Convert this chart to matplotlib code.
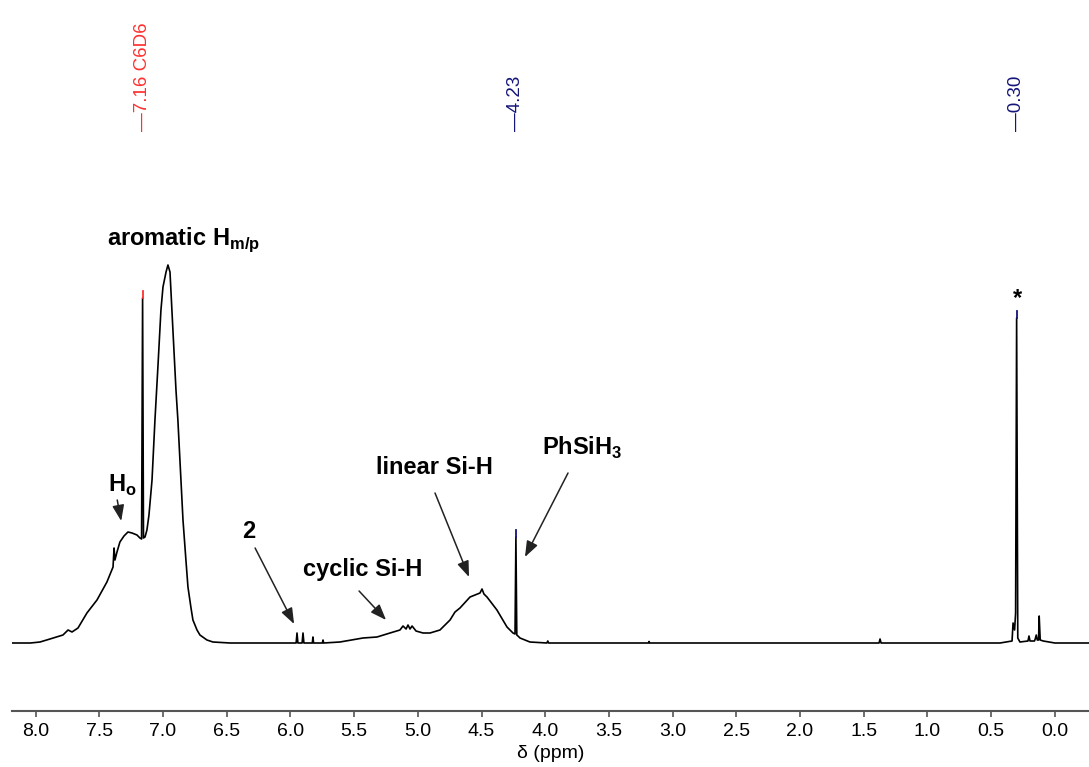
import matplotlib.pyplot as plt
import matplotlib as mpl

mpl.rcParams['font.family'] = ['Liberation Sans', 'DejaVu Sans']
mpl.rcParams['mathtext.fontset'] = 'custom'
mpl.rcParams['mathtext.rm'] = 'Liberation Sans'
mpl.rcParams['mathtext.bf'] = 'Liberation Sans:bold'

# spectrum (ppm, intensity a.u.)
ppm = [8.19, 8.04, 7.965, 7.887, 7.785, 7.745, 7.714, 7.667, 7.597, 7.518,
       7.44, 7.392, 7.384, 7.377, 7.361, 7.338, 7.306, 7.275, 7.243, 7.204,
       7.181, 7.168, 7.16, 7.153, 7.141, 7.126, 7.11, 7.086, 7.063, 7.039,
       7.016, 7.0, 6.976, 6.961, 6.945, 6.922, 6.898, 6.883, 6.859, 6.843,
       6.82, 6.804, 6.78, 6.765, 6.733, 6.71, 6.655, 6.608, 6.474, 6.0,
       5.955, 5.948, 5.941, 5.908, 5.901, 5.894, 5.828, 5.823, 5.818, 5.749,
       5.744, 5.739, 5.611, 5.43, 5.32, 5.218, 5.14, 5.116, 5.092, 5.077,
       5.061, 5.045, 5.014, 4.959, 4.904, 4.826, 4.747, 4.708, 4.669, 4.59,
       4.512, 4.496, 4.481, 4.457, 4.379, 4.3, 4.253, 4.237, 4.23, 4.223,
       4.214, 4.198, 4.12, 3.987, 3.98, 3.973, 3.19, 3.185, 3.18, 1.38,
       1.372, 1.364, 0.43, 0.336, 0.328, 0.316, 0.308, 0.3, 0.291, 0.274,
       0.211, 0.203, 0.195, 0.16, 0.154, 0.146, 0.138, 0.128, 0.123, 0.115,
       0.091, 0.0, -0.27]
intensity = [0, 0, 1, 4, 8, 13, 11, 15, 30, 43,
             61, 76, 95, 83, 91, 101, 107, 111, 110, 108,
             105, 104, 345, 105, 106, 113, 128, 163, 223, 278,
             333, 356, 371, 378, 371, 313, 253, 223, 163, 123,
             83, 56, 35, 23, 13, 8, 3, 1, 0, 0,
             0, 10, 0, 0, 10, 0, 0, 6, 0, 0,
             3, 0, 1, 5, 6, 10, 13, 17, 14, 18,
             14, 17, 12, 10, 10, 13, 23, 31, 35, 46,
             50, 54, 49, 46, 33, 16, 10, 9, 106, 8,
             7, 5, 1, 0, 2, 0, 0, 1.5, 0, 0,
             4, 0, 0, 2, 20, 13, 30, 325, 5, 1,
             2, 7, 2, 2, 4, 8, 3, 3, 27, 3,
             2, 0, 0]

# picked peaks
peak_ppm = [7.16, 4.23, 0.30]
peak_text = ['7.16 C6D6', '4.23', '0.30']
peak_color = ['#ff3030', '#14147a', '#14147a']

fig = plt.figure(figsize=(10.89, 7.67), dpi=100)
ax = fig.add_axes([12/1089, 56/767, 1 - 12/1089, 711/767])

ax.plot(ppm, intensity, color='black', linewidth=1.2)

# peak pick marks and labels on top
for p, t, c in zip(peak_ppm, peak_text, peak_color):
    h = intensity[ppm.index(p)]
    ax.plot([p, p], [h, h + 7], color=c, linewidth=1.3)
    ax.text(p, 512, '\u2014' + t, rotation=90, ha='center', va='bottom',
            color=c, fontsize=13.5)

# assignments
ax.text(6.835, 398, r'aromatic H$_{\mathbf{m/p}}$', fontsize=17, fontweight='bold',
        ha='center', va='baseline')
ax.text(7.321, 151, r'H$_{\mathbf{o}}$', fontsize=17, fontweight='bold',
        ha='center', va='baseline')
ax.text(6.33, 105, '2', fontsize=17, fontweight='bold', ha='center', va='baseline')
ax.text(5.429, 67, 'cyclic Si-H', fontsize=17, fontweight='bold',
        ha='center', va='baseline')
ax.text(4.873, 169, 'linear Si-H', fontsize=17, fontweight='bold',
        ha='center', va='baseline')
ax.text(3.711, 188, r'PhSiH$_{\mathbf{3}}$', fontsize=17, fontweight='bold',
        ha='center', va='baseline')
ax.text(0.291, 338, '*', fontsize=17, fontweight='bold', ha='center', va='baseline')

arrows = [((7.359, 143), (7.328, 122)),
          ((6.277, 95), (5.971, 19)),
          ((5.461, 52), (5.249, 23)),
          ((4.865, 150), (4.598, 66)),
          ((3.821, 170), (4.159, 86))]
for tail, head in arrows:
    ax.annotate('', xy=head, xytext=tail,
                arrowprops=dict(arrowstyle='-|>,head_length=0.8,head_width=0.3',
                                color='#222222', lw=1.1, mutation_scale=12,
                                shrinkA=0, shrinkB=0))

# axes
ax.set_xlim(8.185, -0.268)
ax.set_ylim(-68, 643)
ax.set_xticks([8.0, 7.5, 7.0, 6.5, 6.0, 5.5, 5.0, 4.5, 4.0, 3.5, 3.0, 2.5,
               2.0, 1.5, 1.0, 0.5, 0.0])
ax.set_yticks([])
for s in ['left', 'right', 'top']:
    ax.spines[s].set_visible(False)
ax.spines['bottom'].set_color('#555555')
ax.spines['bottom'].set_linewidth(1.5)
ax.tick_params(axis='x', direction='out', length=4.5, width=1.2, color='#555555',
               labelsize=14, pad=4)
ax.set_xlabel('\u03b4 (ppm)', fontsize=14, labelpad=4)

plt.savefig('out.png', dpi=100)
